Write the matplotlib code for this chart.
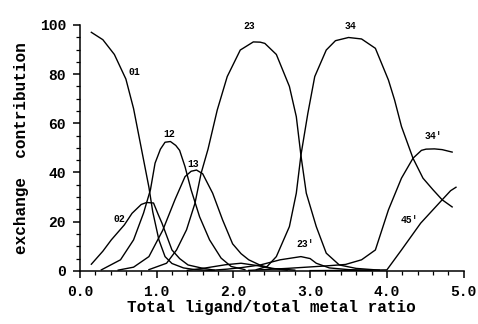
import matplotlib
matplotlib.use("Agg")
import matplotlib.pyplot as plt
from matplotlib.ticker import MultipleLocator, FormatStrFormatter

# curves (ligand/metal ratio, exchange contribution %)
x_01 = [0.15, 0.3, 0.45, 0.6, 0.7, 0.8, 0.85, 0.9, 0.95, 1.03, 1.11, 1.2, 1.35, 1.5, 1.7]
y_01 = [97, 94, 88, 78, 66, 50, 42, 34, 24, 12.6, 5.8, 3.0, 1.2, 0.5, 0.2]

x_02 = [0.15, 0.3, 0.41, 0.58, 0.68, 0.8, 0.87, 0.96, 1.02, 1.07, 1.2, 1.3, 1.41, 1.58, 1.75]
y_02 = [2.7, 8, 12.6, 18.7, 23.4, 27, 27.8, 27.6, 23, 19.4, 8.5, 5, 2.4, 1.2, 0.3]

x_12 = [0.28, 0.53, 0.7, 0.83, 0.92, 0.98, 1.05, 1.11, 1.18, 1.25, 1.3, 1.37, 1.45,
        1.56, 1.69, 1.84, 1.97, 2.15]
y_12 = [0.4, 4.5, 12.6, 23.5, 33, 43.8, 49.5, 52.3, 52.6, 51, 49, 42.4, 32.9,
        22, 12.6, 5.2, 1.8, 0.5]

x_13 = [0.5, 0.7, 0.9, 1.08, 1.24, 1.37, 1.45, 1.52, 1.6, 1.73, 1.86, 1.99, 2.1,
        2.2, 2.35, 2.5, 2.7]
y_13 = [0.3, 1.5, 5.8, 16.5, 29, 38.3, 40.5, 41, 39.5, 31.6, 20.7, 11, 7,
        4.5, 2.3, 1.0, 0.3]

x_23 = [0.9, 1.13, 1.26, 1.39, 1.5, 1.58, 1.67, 1.79, 1.92, 2.09, 2.26, 2.35, 2.41,
        2.56, 2.73, 2.82, 2.88, 2.95, 3.08, 3.21, 3.38, 3.6, 3.9]
y_23 = [0.5, 3.1, 8.5, 16.7, 27.5, 39.7, 49.5, 65.4, 79, 89.8, 93.1, 93, 92.5,
        88, 75, 62.7, 47, 31.6, 18, 7.2, 2.4, 1.0, 0.3]

x_34 = [2.3, 2.44, 2.56, 2.73, 2.82, 2.88, 2.97, 3.06, 3.21, 3.33, 3.5, 3.67, 3.85,
        4.02, 4.1, 4.19, 4.34, 4.47, 4.6, 4.72, 4.85]
y_34 = [0.5, 1.8, 5.8, 18, 31.6, 47, 64, 79, 89.8, 93.6, 94.9, 94.3, 90.5,
        77.6, 69.5, 58.7, 45.8, 37.7, 33, 28.9, 26]

x_34p = [2.2, 2.7, 3.2, 3.46, 3.67, 3.85, 4.02, 4.19, 4.34, 4.45, 4.51, 4.62, 4.72, 4.85]
y_34p = [0.2, 1.0, 2.0, 2.6, 4.5, 8.5, 24.8, 37.7, 45.8, 49, 49.5, 49.6, 49.3, 48.3]

x_23p = [1.7, 1.92, 2.1, 2.35, 2.61, 2.88, 3.0, 3.08, 3.25, 3.5, 3.8]
y_23p = [0.2, 0.7, 1.3, 2.4, 4.5, 5.8, 5, 3.1, 1.2, 0.5, 0.2]

x_45p = [3.0, 3.5, 4.0, 4.19, 4.44, 4.72, 4.83, 4.9]
y_45p = [0.1, 0.2, 0.4, 8.5, 19.4, 28.9, 32.6, 34]

x_low = [1.4, 1.6, 1.9, 2.1, 2.3, 2.5, 2.8]
y_low = [0.2, 1.0, 2.5, 3.1, 2.2, 1.0, 0.3]

curves = [(x_01, y_01), (x_02, y_02), (x_12, y_12), (x_13, y_13), (x_23, y_23),
          (x_34, y_34), (x_34p, y_34p), (x_23p, y_23p), (x_45p, y_45p), (x_low, y_low)]

labels = ["01", "02", "12", "13", "23", "34", "34'", "23'", "45'"]
label_x = [0.71, 0.52, 1.16, 1.47, 2.21, 3.53, 4.6, 2.94, 4.3]
label_y = [81, 21, 55.5, 43.5, 99.5, 99.5, 55, 11, 20.5]

FONT = "Liberation Mono"

fig = plt.figure(figsize=(4.78, 3.24), dpi=100)
ax = fig.add_axes([0.167, 0.164, 0.803, 0.759])

for xs, ys in curves:
    ax.plot(xs, ys, color="black", linewidth=1.0)

for txt, lx, ly in zip(labels, label_x, label_y):
    ax.text(lx, ly, txt, fontsize=7, fontweight="bold", family=FONT,
            ha="center", va="center")

ax.set_xlim(0, 5)
ax.set_ylim(0, 100)
ax.spines["top"].set_visible(False)
ax.spines["right"].set_visible(False)
ax.spines["left"].set_linewidth(1.1)
ax.spines["bottom"].set_linewidth(1.1)

ax.xaxis.set_major_locator(MultipleLocator(1))
ax.xaxis.set_minor_locator(MultipleLocator(0.2))
ax.xaxis.set_major_formatter(FormatStrFormatter("%.1f"))
ax.yaxis.set_major_locator(MultipleLocator(20))
ax.yaxis.set_minor_locator(MultipleLocator(5))
ax.tick_params(which="major", direction="out", length=5, width=1.1, labelsize=10.5, pad=5)
ax.tick_params(which="minor", direction="out", length=3, width=0.9)
for lab in ax.get_xticklabels() + ax.get_yticklabels():
    lab.set_fontfamily(FONT)
    lab.set_fontweight("bold")

ax.set_xlabel("Total ligand/total metal ratio", fontsize=11.5, fontweight="bold",
              family=FONT, labelpad=1)
ax.set_ylabel("exchange  contribution", fontsize=11.5, fontweight="bold",
              family=FONT, labelpad=8)

fig.savefig("out.png", dpi=100)
